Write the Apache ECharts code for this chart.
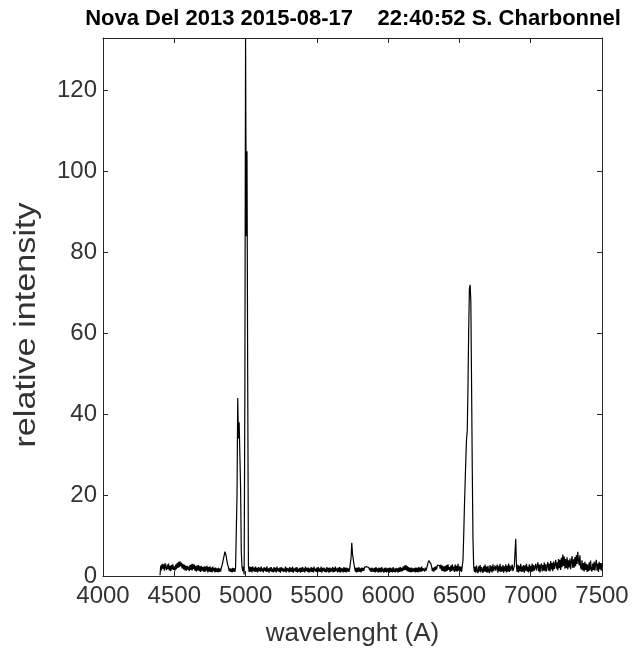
<!DOCTYPE html>
<html><head><meta charset="utf-8">
<script src="https://cdn.jsdelivr.net/npm/echarts@6/dist/echarts.min.js"></script>
<style>html,body{margin:0;padding:0;background:#fff}#c{width:633px;height:654px}</style>
</head><body><div id="c"></div>
<script>
const titleText = 'Nova Del 2013 2015-08-17    22:40:52 S. Charbonnel';
const xAxisTitle = 'wavelenght (A)';
const yAxisTitle = 'relative intensity';
const xTickValues = [4000, 4500, 5000, 5500, 6000, 6500, 7000, 7500];
const yTickValues = [0, 20, 40, 60, 80, 100, 120];
const yMax = 133;

// spectrum sampled every 5 A from 4400 A
const wavelengthStart = 4400;
const wavelengthStep = 5;
const flux4400 = [0.2,2.6,1.4,3.0,1.8,2.9,1.3,3.2,2.0,1.5,2.8,1.7,3.1,1.4,2.5,1.2,2.7,1.6,2.9,1.5];
const flux4500 = [2.4,1.3,2.8,1.7,3.2,2.0,3.5,2.2,3.6,2.4,3.3,1.9,3.0,1.6,2.8,1.4,2.6,1.3,2.5,1.6];
const flux4600 = [2.3,1.2,2.7,1.5,2.9,1.4,3.0,1.7,2.8,1.3,2.5,1.1,2.6,1.4,2.7,1.2,2.4,1.0,2.5,1.3];
const flux4700 = [2.2,1.1,2.4,1.0,2.3,1.3,2.5,0.9,2.2,1.1,2.4,1.0,2.1,0.9,2.3,1.2,2.0,0.9,2.1,1.0];
const flux4800 = [1.9,0.9,2.0,1.0,1.8,1.1,2.1,2.6,3.4,4.3,5.1,6.0,5.5,4.7,3.6,2.7,2.2,1.2,1.9,1.0];
const flux4900 = [1.8,0.9,2.0,1.1,1.9,1.0,2.1,1.8,20,44,34,38,30,22,6,2.4,1.2,2.3,0.4,45];
const flux5000 = [133,84,105,48,2.6,1.0,2.3,1.1,2.2,0.9,2.4,1.2,2.1,1.0,2.3,1.1,2.0,0.9,2.2,1.2];
const flux5100 = [2.1,1.0,2.3,1.2,1.9,0.9,2.2,1.3,2.0,1.0,2.4,1.1,1.9,0.8,2.1,1.2,2.2,1.0,1.8,0.9];
const flux5200 = [2.2,1.1,2.0,0.9,2.3,1.2,1.9,1.0,2.1,0.8,2.2,1.3,2.0,1.0,1.8,1.1,2.3,0.9,2.0,1.2];
const flux5300 = [1.9,0.9,2.2,1.1,2.0,1.0,2.3,0.8,1.9,1.2,2.1,1.0,2.2,0.9,1.8,1.1,2.0,0.8,2.1,1.0];
const flux5400 = [2.2,1.1,1.9,0.9,2.3,1.2,2.0,1.0,2.1,0.8,1.9,1.1,2.2,1.0,2.0,0.9,2.3,1.2,1.8,1.0];
const flux5500 = [2.1,0.9,2.2,1.1,1.9,1.0,2.3,0.8,2.0,1.2,2.1,1.0,1.8,0.9,2.2,1.1,2.0,0.8,2.1,1.0];
const flux5600 = [1.9,1.1,2.2,0.9,2.0,1.0,2.3,1.2,1.9,0.9,2.1,1.0,2.2,0.8,2.0,1.1,1.9,0.9,2.2,1.0];
const flux5700 = [2.0,0.9,2.1,1.1,1.9,1.0,1.7,1.8,4.5,8.2,5.4,5.0,3.0,2.0,1.1,2.1,0.9,2.0,1.0,2.2];
const flux5800 = [1.1,1.9,0.9,2.1,1.2,2.0,1.3,2.2,2.0,2.6,2.3,2.7,2.2,2.1,1.4,1.9,1.0,2.1,1.1,1.9];
const flux5900 = [1.0,2.0,0.9,2.2,1.1,1.9,0.8,2.1,1.0,2.0,0.9,2.2,1.1,1.8,0.8,2.0,1.0,2.1,0.9,1.9];
const flux6000 = [1.1,2.0,0.8,2.1,1.0,1.9,0.9,2.2,1.0,1.8,0.9,2.0,1.1,1.9,0.8,2.1,1.0,2.2,1.1,2.0];
const flux6100 = [1.2,2.3,1.4,2.6,1.5,2.7,1.3,2.4,1.1,2.2,1.0,2.0,0.9,2.1,1.0,1.9,1.1,2.0,0.9,2.1];
const flux6200 = [1.0,2.0,0.9,2.2,1.1,2.1,1.0,2.3,1.2,1.9,2.2,1.1,2.1,1.3,1.9,2.6,3.3,3.8,3.9,3.6];
const flux6300 = [3.0,2.3,1.2,2.0,1.1,2.2,1.4,2.4,1.6,2.7,2.9,2.3,2.6,1.8,2.8,1.3,2.6,1.2,2.4,1.1];
const flux6400 = [2.5,1.1,2.7,1.3,2.9,1.5,2.2,1.0,2.6,1.2,2.9,1.4,2.3,1.0,2.8,1.2,2.5,1.1,3.0,1.3];
const flux6500 = [2.4,1.2,2.3,1.0,1.3,4,10,17,23,29,34,36,47,61,71,72,68,48,27,9];
const flux6600 = [2.5,1.0,2.3,0.8,2.6,1.2,0.7,2.4,1.1,2.7,0.9,2.2,2.6,0.8,2.4,1.1,2.8,1.0,2.3,0.8];
const flux6700 = [2.5,1.2,0.7,2.7,1.1,2.4,0.9,2.9,1.2,0.8,2.6,1.3,1.0,2.8,0.8,2.5,1.2,3.0,1.0,2.3];
const flux6800 = [1.1,2.7,0.8,2.4,1.2,2.9,0.9,2.5,1.1,3.1,1.0,2.6,1.3,0.9,2.8,1.2,1.0,2.5,2.2,9.2];
const flux6900 = [2.3,1.0,2.8,0.9,2.5,1.2,3.0,1.0,2.4,1.1,2.7,0.8,2.6,1.3,3.0,1.1,2.3,0.9,2.9,1.2];
const flux7000 = [2.5,1.0,3.1,1.1,2.7,1.3,0.9,3.0,1.4,1.1,3.4,1.2,2.8,0.9,2.5,3.1,1.1,2.7,1.3,3.3];
const flux7100 = [1.2,2.9,1.1,2.6,3.4,1.3,3.0,1.1,3.7,1.6,3.2,1.2,3.6,1.7,1.3,4.0,1.8,3.4,1.4,4.2];
const flux7200 = [1.9,4.0,1.5,4.5,2.2,5.3,2.5,4.8,1.8,4.2,2.0,4.6,1.6,3.9,2.1,4.3,1.7,3.6,4.9,2.0];
const flux7300 = [4.1,2.1,4.7,2.4,5.2,3.0,6.0,3.8,2.6,5.1,2.2,1.6,3.9,1.4,3.2,1.1,3.5,1.5,3.0,1.0];
const flux7400 = [2.8,1.2,3.4,1.4,3.8,1.6,1.1,3.1,1.5,3.6,1.3,2.9,4.0,1.4,3.1,1.0,3.5,1.7,3.2,1.3];
const flux7500 = [3.2];

const flux = [].concat(flux4400, flux4500, flux4600, flux4700, flux4800, flux4900, flux5000,
  flux5100, flux5200, flux5300, flux5400, flux5500, flux5600, flux5700, flux5800, flux5900,
  flux6000, flux6100, flux6200, flux6300, flux6400, flux6500, flux6600, flux6700, flux6800,
  flux6900, flux7000, flux7100, flux7200, flux7300, flux7400, flux7500);
const spectrum = flux.map((v, i) => [wavelengthStart + i * wavelengthStep, v]);

const FONT = "'Liberation Sans', Arial, Helvetica, sans-serif";
const AX = '#262626';
const LBL = '#333333';
const tickStyle = {show: true, inside: true, length: 5, lineStyle: {color: AX, width: 1}};
const lineStyleAx = {show: true, onZero: false, lineStyle: {color: AX, width: 1}};

const chart = echarts.init(document.getElementById('c'), null, {renderer: 'canvas'});
chart.setOption({
  animation: false,
  backgroundColor: '#fff',
  title: {
    text: titleText, left: 353, top: 8, textAlign: 'center', padding: 0,
    textStyle: {fontFamily: FONT, fontSize: 22, fontWeight: 'bold', color: '#000'}
  },
  graphic: [{
    type: 'text', x: 27, y: 325, rotation: Math.PI / 2, scaleX: 1.14, scaleY: 1,
    style: {
      text: yAxisTitle, font: '30px ' + FONT, fill: LBL,
      align: 'center', verticalAlign: 'middle', textAlign: 'center', textVerticalAlign: 'middle'
    }
  }],
  grid: {left: 103, right: 31, top: 38, bottom: 78, containLabel: false},
  xAxis: [{
    type: 'value', min: xTickValues[0], max: xTickValues[xTickValues.length - 1], interval: 500,
    position: 'bottom', axisLine: lineStyleAx, axisTick: tickStyle, splitLine: {show: false},
    axisLabel: {fontFamily: FONT, fontSize: 24, color: LBL, margin: 8, formatter: v => String(v)},
    name: xAxisTitle, nameLocation: 'middle', nameGap: 45,
    nameTextStyle: {fontFamily: FONT, fontSize: 26, color: LBL}
  }, {
    type: 'value', min: xTickValues[0], max: xTickValues[xTickValues.length - 1], interval: 500,
    position: 'top', axisLine: lineStyleAx, axisTick: tickStyle, splitLine: {show: false},
    axisLabel: {show: false}
  }],
  yAxis: [{
    type: 'value', min: yTickValues[0], max: yMax, interval: 20,
    position: 'left', axisLine: lineStyleAx, axisTick: tickStyle, splitLine: {show: false},
    axisLabel: {fontFamily: FONT, fontSize: 24, color: LBL, margin: 6, showMaxLabel: false, formatter: v => String(v)}
  }, {
    type: 'value', min: yTickValues[0], max: yMax, interval: 20,
    position: 'right', axisLine: lineStyleAx, axisTick: tickStyle, splitLine: {show: false},
    axisLabel: {show: false}
  }],
  series: [{
    type: 'line', xAxisIndex: 0, yAxisIndex: 0, data: spectrum,
    showSymbol: false, symbol: 'none', clip: true,
    lineStyle: {color: '#000', width: 1.2}
  }]
});
</script></body></html>
